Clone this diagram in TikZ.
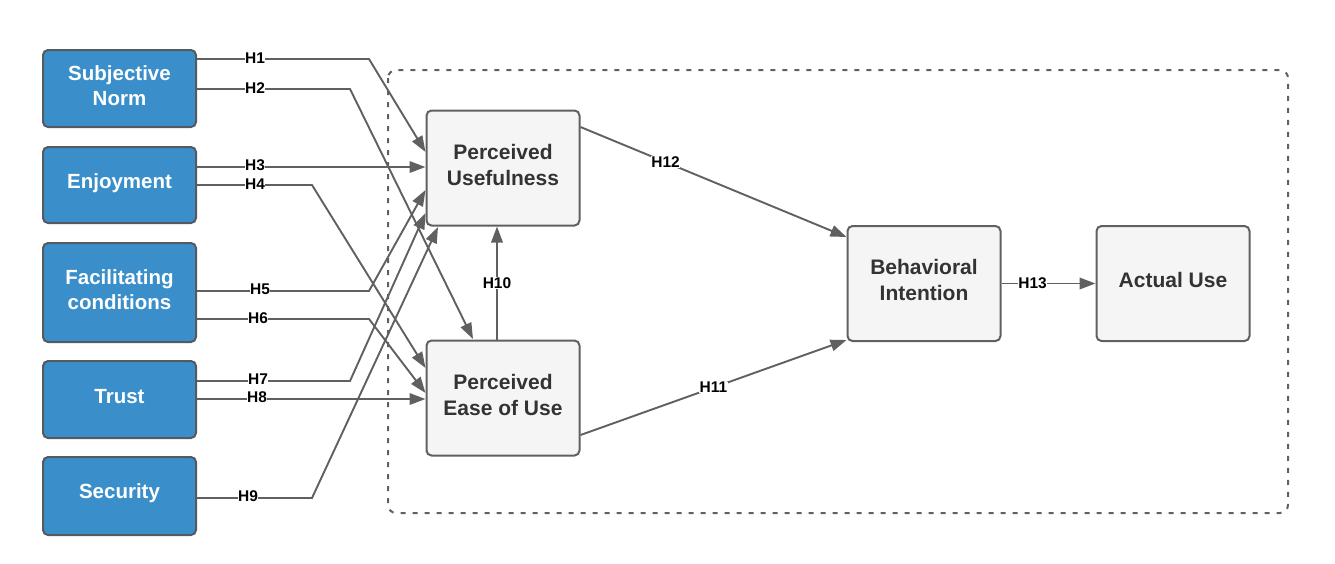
\documentclass[tikz,border=0pt]{standalone}
\usepackage{fontspec}
\setmainfont{Liberation Sans}
\usetikzlibrary{arrows.meta}
\definecolor{bluefill}{HTML}{3A8FCA}
\definecolor{bordc}{HTML}{555A5E}
\definecolor{linec}{HTML}{606060}
\definecolor{greyfill}{HTML}{F5F5F5}
\definecolor{textc}{HTML}{333333}
\begin{document}
\begin{tikzpicture}[x=1pt,y=-1pt,
  srcbox/.style={draw=bordc, line width=2pt, fill=bluefill, rounded corners=5pt,
    minimum width=153pt, inner sep=0pt},
  srctext/.style={text=white, font=\bfseries\fontsize{20.5}{25}\selectfont,
    align=center, inner sep=0pt, yshift=3pt},
  constr/.style={draw=linec, line width=2pt, fill=greyfill, rounded corners=5pt,
    minimum width=153pt, minimum height=115pt, inner sep=0pt},
  context/.style={text=textc, font=\bfseries\fontsize{21}{26}\selectfont,
    align=center, inner sep=0pt, yshift=3.5pt},
  conn/.style={draw=linec, line width=1.9pt, -{Triangle[length=16pt,width=11.5pt]}},
  hl/.style={fill=white, inner sep=0.3pt, text=black, font=\bfseries\fontsize{15.5}{17}\selectfont}
]
\useasboundingbox (0,0) rectangle (1335,563);

% dashed frame
\draw[linec, line width=2pt, dash pattern=on 5pt off 7pt, rounded corners=8pt] (388,70) rectangle (1288,513);

% source constructs
\node[srcbox, minimum height=77pt, label={[srctext]center:{Subjective\\Norm}}] (sn)  at (119.5,88.5) {};
\node[srcbox, minimum height=76pt, label={[srctext, yshift=-1.5pt]center:{Enjoyment}}] (enj) at (119.5,185) {};
\node[srcbox, minimum height=99pt, label={[srctext]center:{Facilitating\\conditions}}] (fc)  at (119.5,292.5) {};
\node[srcbox, minimum height=77pt, label={[srctext]center:{Trust}}] (tr)  at (119.5,399.5) {};
\node[srcbox, minimum height=78pt, label={[srctext]center:{Security}}] (sec) at (119.5,496) {};

% TAM constructs
\node[constr, label={[context]center:{Perceived\\Usefulness}}] (pu)   at (503,168) {};
\node[constr, label={[context]center:{Perceived\\Ease of Use}}] (peou) at (503,398) {};
\node[constr, label={[context]center:{Behavioral\\Intention}}] (bi)   at (924,283.5) {};
\node[constr, label={[context]center:{Actual Use}}] (au)   at (1173,283.5) {};

% H1-H9
\draw[conn] (sn.east |- 0,59) -- (369,59) -- (pu.west |- 0,152);
\draw[conn] (sn.east |- 0,89) -- (350,89) -- (473,339);
\draw[conn] (enj.east |- 0,167) -- (pu.west |- 0,167);
\draw[conn] (enj.east |- 0,185) -- (312,185) -- (peou.west |- 0,368);
\draw[conn] (fc.east |- 0,291) -- (369,291) -- (pu.west |- 0,190);
\draw[conn] (fc.east |- 0,319) -- (369,319) -- (peou.west |- 0,393);
\draw[conn] (tr.east |- 0,381) -- (350,381) -- (pu.west |- 0,213);
\draw[conn] (tr.east |- 0,399) -- (peou.west |- 0,399);
\draw[conn] (sec.east |- 0,498) -- (312,498) -- (438,227);

\node[hl] (l1) at (255,58) {H1};
\node[hl] (l2) at (255,88) {H2};
\node[hl] (l3) at (255,165) {H3};
\node[hl] (l4) at (255,184) {H4};
\node[hl] (l5) at (260,289) {H5};
\node[hl] (l6) at (258,318) {H6};
\node[hl] (l7) at (258,379) {H7};
\node[hl] (l8) at (257,397) {H8};
\node[hl] (l9) at (248,496) {H9};

% H10-H13
\draw[conn] (peou.north -| 497,0) -- node[hl]{H10} (pu.south -| 497,0);
\draw[conn] (pu.east |- 0,127) -- node[hl, pos=0.32]{H12} (bi.west |- 0,237);
\draw[conn] (peou.east |- 0,435) -- node[hl, pos=0.5]{H11} (bi.west |- 0,340);
\draw[conn] (bi.east) -- node[hl, pos=0.33]{H13} (au.west);
\end{tikzpicture}
\end{document}
